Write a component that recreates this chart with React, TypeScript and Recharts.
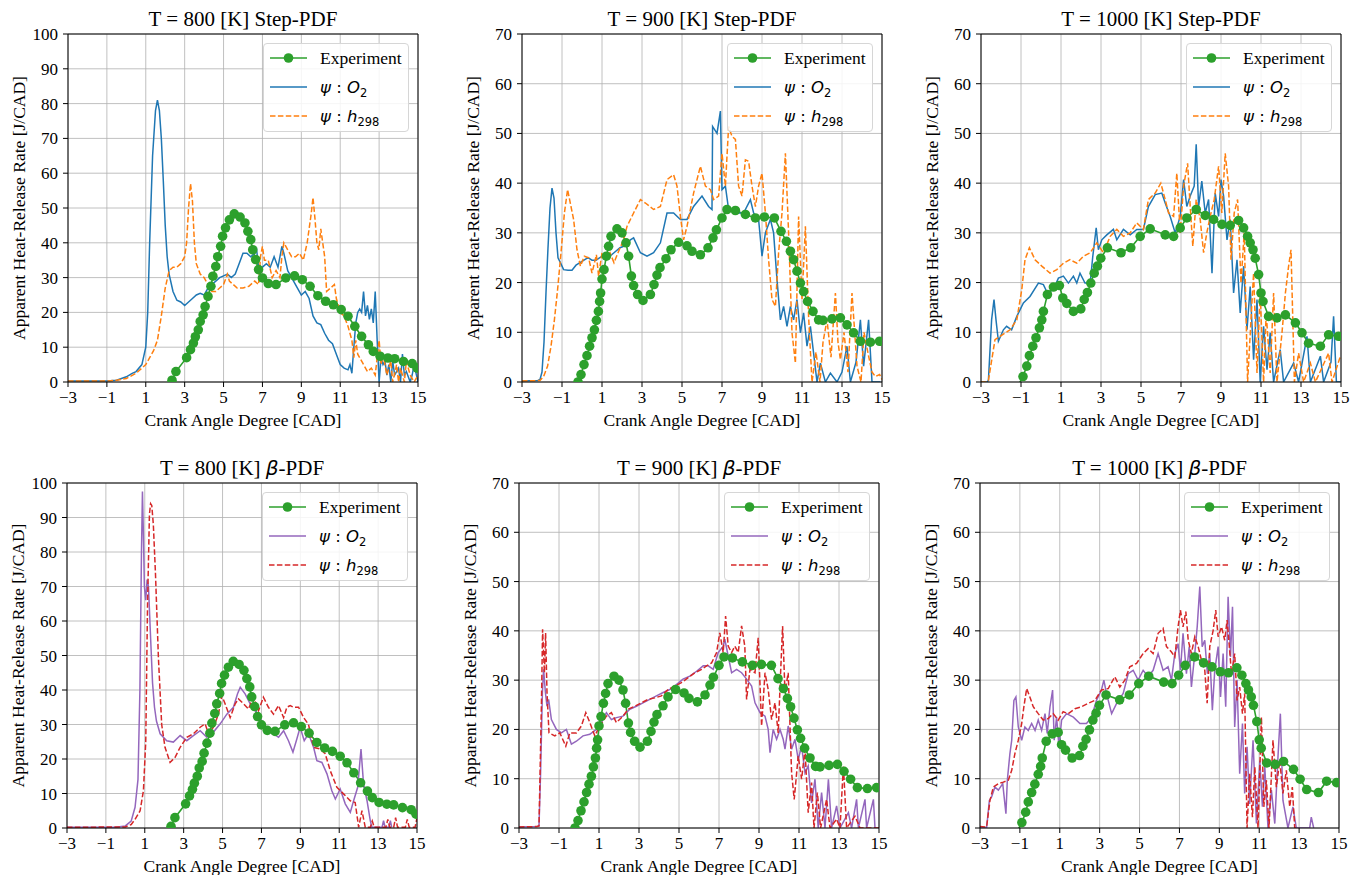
import React from 'react';
import { LineChart, Line, XAxis, YAxis, CartesianGrid, ReferenceLine } from 'recharts';

type Pt = [number, number];

const X_TICKS = [-3, -1, 1, 3, 5, 7, 9, 11, 13, 15];
const Y_TICKS_100 = [0, 10, 20, 30, 40, 50, 60, 70, 80, 90, 100];
const Y_TICKS_70 = [0, 10, 20, 30, 40, 50, 60, 70];

// measured heat release, shared by the Step-PDF and beta-PDF panels
const exp800: Pt[] = [[2.35,0.5],[2.55,3],[3.1,7],[3.3,9.3],[3.45,11.2],[3.55,13],[3.7,15],[3.8,17.4],[3.95,19.3],[4.05,21.7],[4.2,24.6],[4.35,27.5],[4.45,30.4],[4.6,33.2],[4.7,36],[4.85,39],[4.95,41.9],[5.1,44.3],[5.3,46.6],[5.55,48.3],[5.85,47.4],[6.1,45.7],[6.25,43.3],[6.4,40.9],[6.5,38],[6.65,35.2],[6.8,32.3],[7.0,29.9],[7.3,28.3],[7.7,28],[8.2,29.9],[8.65,30.5],[9.05,29.4],[9.45,27.5],[9.85,24.8],[10.25,23.2],[10.65,22.2],[11.05,20.8],[11.4,18.9],[11.75,16],[12.1,13.1],[12.45,10.7],[12.7,8.8],[13.05,7.4],[13.45,6.9],[13.8,6.7],[14.25,5.9],[14.7,5.3],[14.95,4]];
const exp900: Pt[] = [[-0.2,0],[-0.05,1.5],[0.1,3.5],[0.25,5.3],[0.38,7.2],[0.5,8.9],[0.62,10.5],[0.72,12.4],[0.82,14.2],[0.88,16.2],[0.93,17.9],[1.0,20.7],[1.1,22.6],[1.22,25.3],[1.33,27.3],[1.45,29.3],[1.75,30.8],[2.0,30],[2.2,28],[2.33,25.3],[2.47,21.3],[2.58,19.4],[2.78,17.6],[3.05,16.4],[3.42,17.6],[3.6,19.6],[3.75,21.5],[3.9,23],[4.2,24.8],[4.45,26.6],[4.83,28.1],[5.25,27.4],[5.5,26.3],[5.92,25.6],[6.3,27],[6.55,29],[6.72,30.6],[7.0,33],[7.25,34.7],[7.67,34.5],[8.17,33.7],[8.67,33],[9.12,33.2],[9.62,33],[9.95,30.3],[10.22,28.3],[10.42,26.3],[10.58,24.6],[10.75,22.3],[10.92,19.9],[11.08,18.2],[11.28,16.2],[11.55,14.2],[11.83,12.5],[12.05,12.4],[12.5,12.7],[12.92,12.9],[13.25,11.5],[13.58,9.9],[13.92,8.2],[14.42,8],[14.88,8.2]];
const exp1000: Pt[] = [[-1.25,-1.5],[-0.9,1.1],[-0.71,3.2],[-0.58,5.3],[-0.41,7.2],[-0.25,8.9],[-0.08,10.9],[0.04,12.5],[0.12,14.2],[0.32,17.6],[0.62,19.1],[0.92,19.4],[1.09,16.9],[1.29,15.8],[1.62,14.2],[1.99,14.7],[2.16,16.6],[2.32,18],[2.49,19.9],[2.66,21.9],[2.82,23.3],[2.99,24.9],[3.32,27],[4.0,26],[4.49,27],[4.96,29.3],[5.46,30.8],[6.21,29.6],[6.63,29.3],[6.96,31],[7.29,33],[7.76,34.7],[8.21,33.5],[8.63,32.7],[9.05,31.7],[9.46,31.5],[9.88,32.5],[10.13,31],[10.33,29.3],[10.46,28],[10.6,26.6],[10.71,24.9],[10.88,21.6],[11.0,17.9],[11.1,16.2],[11.38,13.2],[11.8,12.9],[12.22,13.5],[12.72,11.9],[13.05,9.9],[13.38,7.8],[13.97,7.2],[14.38,9.5],[14.88,9.2]];

// Step-PDF simulations
const step800O2: Pt[] = [[-3,0.3],[-1,0.3],[-0.5,0.5],[0,1.5],[0.3,2.5],[0.5,3],[0.8,5],[1.0,10],[1.1,20],[1.2,40],[1.35,65],[1.5,78],[1.6,81],[1.7,78],[1.8,70],[1.9,58],[2.0,45],[2.1,36],[2.2,31],[2.4,26],[2.6,23.5],[2.8,23],[3.0,22],[3.2,23],[3.4,24],[3.6,25],[3.8,25.5],[4.0,25],[4.2,27],[4.4,28],[4.6,29],[4.8,30],[5.0,30.5],[5.2,31],[5.4,30],[5.6,31],[5.8,34],[6.0,37],[6.2,37],[6.4,36],[6.6,37],[6.7,38],[6.8,33],[7.0,33],[7.2,34],[7.4,33],[7.6,36],[7.8,33],[8.0,39],[8.1,37],[8.3,32],[8.5,30],[8.8,27],[9.0,25],[9.2,26],[9.4,24],[9.6,19],[9.8,17],[10.0,16.5],[10.2,14],[10.4,12],[10.6,11],[10.8,8],[11.0,5],[11.2,4],[11.4,3.5],[11.5,5],[11.6,2.5],[11.7,10],[11.8,17],[11.9,20],[12.0,21],[12.1,20],[12.2,26],[12.3,19],[12.4,22],[12.5,18],[12.6,21],[12.7,17],[12.8,26],[12.9,12],[13.0,0],[13.1,7],[13.2,5],[13.3,6],[13.4,2],[13.5,5],[13.6,0],[13.7,6],[13.8,2],[14.0,4],[14.1,0],[14.2,8],[14.3,2],[14.4,3],[14.6,0],[14.7,2],[14.8,5],[15.0,0]];
const step800H: Pt[] = [[-3,0.3],[-1,0.3],[-0.5,0.5],[0,1],[0.5,2.5],[0.8,4],[1.0,5],[1.2,7],[1.4,9],[1.6,12],[1.8,19],[2.0,27],[2.2,32],[2.4,33],[2.6,33],[2.8,34],[3.0,36],[3.1,40],[3.2,50],[3.3,57],[3.4,52],[3.5,40],[3.6,34],[3.8,31],[4.0,30],[4.2,28],[4.4,26],[4.6,26],[4.8,27],[5.0,28],[5.2,31],[5.3,29],[5.5,28],[5.7,27],[6.0,27],[6.3,27.5],[6.6,29],[6.8,28],[6.9,36],[7.0,39],[7.1,35],[7.3,35],[7.5,30],[7.7,32],[7.9,30],[8.0,36],[8.1,40],[8.3,38],[8.5,36],[8.7,36],[8.9,37],[9.1,35],[9.3,40],[9.5,48],[9.6,53],[9.7,47],[9.8,40],[9.9,38],[10.0,44],[10.1,40],[10.2,36],[10.3,26],[10.5,27],[10.7,28],[10.8,24],[11.0,20],[11.2,19],[11.4,16],[11.6,12],[11.7,7],[11.8,12],[11.9,8],[12.0,7],[12.2,5],[12.4,3],[12.6,4],[12.8,2],[13.0,12],[13.1,5],[13.2,8],[13.4,2],[13.6,6],[13.7,0],[13.9,5],[14.0,0],[14.1,4],[14.3,0],[14.4,6],[14.6,2],[14.8,0],[15.0,2]];
const step900O2: Pt[] = [[-3,0.2],[-2.2,0.3],[-2.1,0.5],[-2.0,2],[-1.9,8],[-1.8,18],[-1.7,27],[-1.6,35],[-1.5,39],[-1.4,37],[-1.3,30],[-1.2,25],[-1.08,24],[-0.92,22.6],[-0.7,22.5],[-0.5,22.5],[-0.3,23.5],[-0.1,24],[0.1,24.5],[0.3,25],[0.5,24.5],[0.7,24.5],[1.0,25.3],[1.3,25],[1.6,26],[1.9,27],[2.2,27.5],[2.42,28.6],[2.58,29],[2.92,26],[3.25,25.3],[3.58,26],[3.92,28],[4.25,34],[4.58,34],[4.92,32.7],[5.25,32.7],[5.58,35.3],[6.0,37.4],[6.33,35.3],[6.5,34.7],[6.53,51.4],[6.75,50],[6.92,54.5],[7.0,38.7],[7.17,39.4],[7.33,34.7],[7.75,34],[8.08,34],[8.42,36.7],[8.58,34],[8.83,32.7],[9.0,25.3],[9.17,30],[9.42,32.7],[9.58,30],[9.75,20.6],[9.92,12.5],[10.08,15.2],[10.25,11.2],[10.42,15.2],[10.58,12.5],[10.75,16.6],[10.92,9.9],[11.08,13.9],[11.25,7.2],[11.42,11.2],[11.58,5.8],[11.75,0],[11.92,3.8],[12.17,0],[12.42,1.8],[12.75,0],[13.0,2],[13.25,7.2],[13.42,0],[13.7,4],[13.92,12.5],[14.08,3.2],[14.33,12.5],[14.5,0],[14.92,0]];
const step900H: Pt[] = [[-3,0.2],[-2.1,0.3],[-1.92,1.1],[-1.72,3.2],[-1.55,7.2],[-1.38,12.5],[-1.22,18.6],[-1.05,26],[-0.88,34],[-0.72,38.7],[-0.55,35.3],[-0.42,32.7],[-0.25,26.6],[-0.08,23.3],[0.12,25.3],[0.33,25],[0.5,21.9],[0.72,25.6],[0.83,21.3],[1.0,26],[1.2,25],[1.4,26],[1.6,24],[1.8,26],[2.08,28.6],[2.25,31.3],[2.58,34],[2.92,36.7],[3.17,36],[3.58,34.7],[3.92,35.3],[4.25,40.7],[4.58,41.7],[4.75,39.4],[4.92,33.3],[5.08,28.6],[5.25,31.3],[5.58,38],[5.92,43.4],[6.17,39.4],[6.42,38.7],[6.58,36.7],[6.83,37.4],[7.0,46],[7.17,39.4],[7.33,51.4],[7.5,49.4],[7.67,48.8],[7.83,39.4],[8.0,37.4],[8.17,44.7],[8.33,44.4],[8.5,39.4],[8.67,35.3],[8.83,39.4],[9.0,42],[9.17,34],[9.33,24.6],[9.5,16.6],[9.67,15.2],[9.83,26],[10.0,34],[10.17,46],[10.33,30],[10.5,9.9],[10.67,3.8],[10.83,33.3],[11.0,16.6],[11.17,31.3],[11.33,13.2],[11.5,0],[11.7,6],[11.9,0],[12.05,8],[12.25,12.5],[12.45,5],[12.67,17.9],[12.8,8],[12.92,4.5],[13.1,10],[13.3,2],[13.5,17.9],[13.75,3.2],[13.95,0],[14.1,10],[14.33,5.2],[14.5,2],[14.67,1.1],[14.88,1.5],[15,0.5]];
const step1000O2: Pt[] = [[-3,0],[-2.7,0],[-2.63,0.3],[-2.47,12.5],[-2.35,16.6],[-2.25,12.5],[-2.13,8.2],[-1.88,10.5],[-1.72,11.2],[-1.47,10.5],[-1.21,13.2],[-0.88,15.9],[-0.55,17.2],[-0.13,19.9],[0.12,19.6],[0.32,17.9],[0.62,18.6],[0.87,20.9],[1.12,21.3],[1.37,19.9],[1.62,21.3],[1.79,19.9],[1.95,21.9],[2.2,19.9],[2.46,19.9],[2.59,25.3],[2.76,31],[2.87,26.6],[3.04,28.6],[3.29,29.6],[3.62,30.7],[3.79,28.6],[4.12,30.7],[4.46,29.6],[4.79,30.7],[5.12,30.7],[5.37,35.3],[5.71,37.7],[6.04,38],[6.21,36],[6.46,33.3],[6.71,30],[6.96,33.3],[7.13,40.7],[7.29,35.3],[7.46,37.4],[7.66,39.4],[7.76,47.8],[7.88,35.3],[8.04,40.4],[8.21,34],[8.38,36.7],[8.55,21.9],[8.71,38],[8.88,33.3],[9.0,40.7],[9.13,37.4],[9.3,28.6],[9.46,32.7],[9.63,17.9],[9.8,24.6],[9.96,13.9],[10.13,23.3],[10.3,10.5],[10.46,19.2],[10.63,4.5],[10.8,16.6],[10.96,0],[11.13,11.2],[11.3,2.5],[11.46,9.9],[11.63,0],[11.96,6.5],[12.13,0],[12.63,3.8],[12.88,0],[13.3,9.2],[13.47,0],[13.97,5.2],[14.13,0],[14.5,4],[14.63,13.2],[14.77,0],[15,0]];
const step1000H: Pt[] = [[-3,0],[-2.7,0],[-2.63,0.3],[-2.3,8.5],[-2.05,9.2],[-1.55,10.5],[-1.21,12.5],[-0.96,18.6],[-0.8,24.6],[-0.58,27],[-0.3,24.6],[0.04,23.3],[0.45,21.9],[0.79,22.6],[1.12,23.9],[1.45,24.6],[1.79,23.9],[2.12,25.3],[2.46,26],[2.79,28],[3.12,26],[3.46,29.3],[3.79,30.7],[4.12,29.3],[4.46,30],[4.79,32],[5.12,30.7],[5.37,36.7],[5.71,38],[5.99,40],[6.21,36.7],[6.38,34],[6.63,33.3],[6.79,42],[6.96,30],[7.13,39.4],[7.33,44],[7.46,35.3],[7.59,27.3],[7.76,36.7],[7.96,32.7],[8.13,26],[8.29,30],[8.46,33.3],[8.66,36.7],[8.88,43.4],[9.04,34],[9.21,46],[9.38,39.4],[9.5,24.6],[9.66,34],[9.83,36.7],[10.0,19.9],[10.16,30],[10.33,0],[10.5,12.5],[10.63,21.9],[10.8,1.8],[10.96,17.9],[11.13,0],[11.26,13.9],[11.46,1.8],[11.63,17.9],[11.8,0],[12.05,9.9],[12.22,17.9],[12.38,23.3],[12.5,26.6],[12.67,0],[12.88,5.8],[13.13,0],[13.47,3.8],[13.72,0],[14.38,5.8],[14.55,0],[14.97,5.2]];

// beta-PDF simulations
const beta800O2: Pt[] = [[-3,0.2],[-0.5,0.2],[0,0.6],[0.3,2],[0.5,6],[0.65,14],[0.75,40],[0.83,80],[0.88,97.5],[0.93,85],[0.98,70],[1.05,66],[1.12,72],[1.19,70],[1.3,55],[1.4,42],[1.5,35],[1.6,31],[1.79,27.3],[2.13,25.3],[2.47,24.9],[2.82,26.8],[3.16,25.3],[3.5,26.8],[3.85,28.2],[4.19,26.3],[4.53,27.8],[4.88,30.2],[5.22,33],[5.56,35],[5.77,38.9],[5.91,40.8],[6.16,38.9],[6.42,36],[6.68,34],[6.93,32],[7.1,30.2],[7.36,28.2],[7.62,27.3],[7.88,26.3],[8.14,28.2],[8.39,25.3],[8.62,22],[8.82,25.8],[8.99,29.2],[9.2,25.3],[9.42,27.3],[9.68,23.4],[9.85,19.5],[10.11,19],[10.37,15.7],[10.62,10.8],[10.8,8.4],[11.05,11.3],[11.31,7],[11.57,4.5],[11.74,7.9],[11.95,11.8],[12.12,22.9],[12.25,12.8],[12.43,7.9],[12.6,2.1],[12.68,0.2],[13.2,0.2],[13.28,2.1],[13.36,0.2],[13.55,0.2],[13.63,2.1],[13.7,0.2]];
const beta800H: Pt[] = [[-3,0.2],[0,0.3],[0.3,1],[0.5,2.5],[0.76,5],[0.93,10.8],[1.05,25],[1.14,64],[1.24,91],[1.3,94],[1.36,93.5],[1.44,88],[1.55,73.7],[1.7,49.5],[1.87,30],[2.04,23.4],[2.3,19],[2.56,20.5],[2.82,23.4],[3.16,26.3],[3.5,27.3],[3.85,29.2],[4.1,30.2],[4.28,27.3],[4.53,29.2],[4.79,33],[4.96,38.4],[5.13,36],[5.39,32],[5.65,36],[5.82,37.4],[6.08,36],[6.33,34.5],[6.59,37.9],[6.85,34],[7.1,37.9],[7.36,35],[7.62,33],[7.88,35.5],[8.14,32],[8.31,35],[8.48,35.5],[8.65,35],[8.91,35],[9.17,32],[9.42,30],[9.68,23.4],[10.02,22.9],[10.28,21.5],[10.54,16.6],[10.88,11.8],[11.22,9.9],[11.57,7.9],[11.82,7.4],[12.0,0.2],[12.17,5],[12.34,0.2],[12.6,0.2],[12.7,2],[12.8,0.2],[13.4,0.2],[13.5,2.5],[13.6,0.2],[13.8,0.2],[13.9,3],[14.0,0.2],[14.4,0.2],[14.5,2.5],[14.6,0.2],[14.9,0.2],[15,3]];
const beta900O2: Pt[] = [[-3,0.2],[-2.1,0.3],[-2.0,0.4],[-1.92,11.2],[-1.83,27.5],[-1.77,32.2],[-1.68,27.5],[-1.6,24.7],[-1.52,26.1],[-1.38,22],[-1.13,20],[-0.88,19.3],[-0.63,20],[-0.38,17],[-0.13,17.6],[0.2,18.7],[0.54,19],[0.87,20],[1.12,21.4],[1.37,23.4],[1.62,22],[1.87,22.4],[2.2,22.7],[2.54,24.1],[2.87,24.7],[3.2,25.4],[3.54,26.1],[3.87,26.8],[4.21,27.5],[4.54,28.1],[4.87,29.1],[5.2,30.2],[5.54,30.8],[5.88,31.8],[6.21,32.9],[6.46,32.9],[6.71,32.2],[6.96,35.6],[7.21,36.9],[7.29,38.3],[7.46,34.9],[7.63,31.5],[7.88,32.2],[8.13,31.5],[8.38,30.2],[8.63,28.8],[8.8,25.4],[9.05,23.4],[9.3,22.7],[9.46,20],[9.55,15.3],[9.71,20],[9.88,18],[10.05,20],[10.21,18],[10.3,16],[10.46,20.7],[10.63,16],[10.8,18],[10.96,13.9],[11.13,16.6],[11.3,11.2],[11.46,12.6],[11.63,5.1],[11.8,9.9],[11.96,0],[12.13,7.2],[12.3,0],[12.47,9.9],[12.63,0],[12.88,4.5],[13.05,0],[13.47,3.1],[13.63,0],[13.88,5.8],[13.97,0],[14.3,5.8],[14.38,0],[14.72,5.8],[14.8,0]];
const beta900H: Pt[] = [[-3,0.2],[-2.1,0.3],[-2.0,0.4],[-1.88,24.7],[-1.82,40.3],[-1.73,31.5],[-1.67,39.6],[-1.6,27.5],[-1.5,19.3],[-1.21,18.7],[-0.96,19.3],[-0.66,16.6],[-0.46,19.3],[-0.13,19.3],[0.12,20.7],[0.34,23.4],[0.54,21.4],[0.79,18.7],[1.04,20.7],[1.37,22.7],[1.62,23.4],[1.87,21.4],[2.2,22.7],[2.46,24.1],[2.79,24.7],[3.12,25.4],[3.46,26.1],[3.79,26.4],[4.12,26.8],[4.46,28.1],[4.79,28.8],[5.12,29.5],[5.46,30.5],[5.79,31.5],[6.13,32.2],[6.38,32.9],[6.63,33.5],[6.88,35.6],[7.04,39.6],[7.21,35.6],[7.33,43],[7.46,36.9],[7.63,35.6],[7.79,36.9],[7.96,35.6],[8.13,41],[8.29,36.9],[8.38,26.1],[8.55,32.2],[8.8,31.5],[8.96,38.6],[9.13,20.7],[9.3,31.5],[9.46,28.1],[9.63,22],[9.8,25.4],[9.96,19.3],[10.08,31.5],[10.18,41],[10.3,27.5],[10.46,31.5],[10.63,11.2],[10.76,5.8],[10.96,14.6],[11.13,9.9],[11.3,16],[11.46,3.1],[11.63,9.2],[11.75,0],[11.92,7.2],[12.08,0],[12.38,5.8],[12.55,0],[12.88,1.8],[13.05,0],[13.22,12.6],[13.38,0],[13.8,2.4],[14.05,0],[15,0]];
const beta1000O2: Pt[] = [[-3,0],[-2.67,0],[-2.53,5.6],[-2.42,6.3],[-2.25,8.3],[-2.08,7.7],[-1.86,9],[-1.7,2.9],[-1.63,9.7],[-1.5,15.1],[-1.41,17.8],[-1.3,25.9],[-1.2,26.6],[-1.08,20.5],[-0.91,17.8],[-0.75,20.5],[-0.58,19.8],[-0.41,21.2],[-0.24,19.8],[-0.08,21.9],[0.09,19.8],[0.26,23.2],[0.37,19.2],[0.51,24.6],[0.64,28],[0.72,17.8],[0.84,22.5],[0.96,16.5],[1.09,21.9],[1.34,23.2],[1.68,22.5],[2.01,21.2],[2.34,21.2],[2.59,22.5],[2.84,25.9],[3.09,28],[3.21,30],[3.34,27.3],[3.6,23.2],[3.85,25.3],[4.18,27.3],[4.43,31.3],[4.68,32],[4.93,30],[5.18,32],[5.43,30.7],[5.68,32],[5.93,35.4],[6.18,32],[6.43,32.7],[6.6,30],[6.77,35.4],[6.93,37.4],[7.05,32],[7.18,39.5],[7.35,31.3],[7.49,36.8],[7.6,28.6],[7.77,35.4],[7.89,40.8],[8.02,49],[8.14,36.8],[8.27,38.1],[8.4,31.3],[8.52,35.4],[8.65,23.9],[8.77,32],[8.94,36.8],[9.06,26.6],[9.19,35.4],[9.32,24.6],[9.44,46.9],[9.56,34.7],[9.66,44.9],[9.77,20.5],[9.89,30],[10.02,11],[10.16,21.2],[10.27,7],[10.39,16.5],[10.52,4.9],[10.69,17.8],[10.86,0.9],[11.03,13.7],[11.16,4.3],[11.28,12.4],[11.44,0],[11.61,7.7],[11.78,0.9],[11.94,14.4],[12.06,23.2],[12.19,5.6],[12.44,0],[12.69,4.3],[12.86,0],[13.53,0],[13.61,2.2],[13.73,0]];
const beta1000H: Pt[] = [[-3,0.3],[-2.67,0.2],[-2.5,5.6],[-2.33,8.3],[-2.08,9],[-1.83,9.3],[-1.58,9.7],[-1.41,11.7],[-1.25,15.1],[-1.08,17.8],[-0.91,21.2],[-0.8,24.6],[-0.66,28.3],[-0.5,26.6],[-0.33,24.6],[-0.08,23.2],[0.17,21.9],[0.42,22.2],[0.67,23.2],[0.92,21.9],[1.17,23.6],[1.42,23.2],[1.76,24.2],[2.09,24.6],[2.43,25.3],[2.76,25.9],[3.09,28],[3.43,28.3],[3.76,30.7],[4.01,28.6],[4.26,30],[4.51,32.7],[4.85,33.4],[5.18,35.4],[5.43,36.4],[5.68,35.4],[5.93,39.5],[6.18,40.5],[6.35,36.8],[6.6,35.7],[6.77,34.7],[6.93,40.8],[7.05,44.2],[7.18,40.8],[7.32,43.9],[7.44,38.1],[7.6,35.4],[7.77,38.8],[7.94,36.8],[8.1,34.1],[8.27,32],[8.39,25.3],[8.52,36.8],[8.69,40.1],[8.82,44.2],[8.94,38.8],[9.11,40.8],[9.27,38.1],[9.39,42.2],[9.49,37.4],[9.61,31.3],[9.77,35.4],[9.89,25.9],[10.02,28.6],[10.16,23.2],[10.27,27.3],[10.39,0],[10.52,11],[10.66,2.2],[10.78,12.4],[10.94,0],[11.11,22.5],[11.23,4.3],[11.36,9.7],[11.49,0],[11.69,17.8],[11.86,8.3],[12.03,13.7],[12.19,7],[12.36,11.7],[12.53,4.3],[12.66,8.3],[12.78,0],[12.86,0]];

const GREEN = '#2ca02c';
const BLUE = '#1f77b4';
const ORANGE = '#ff7f0e';
const PURPLE = '#9467bd';
const RED = '#d62728';
const SERIF = '"Liberation Serif", "Times New Roman", serif';
const MATH = '"DejaVu Sans", sans-serif';
const DASH = '5.5 2.4';

const YW = 98;
const XH = 76;
const PAD_T = 14;
const PAD_R = 16;

const toPts = (arr: Pt[]) => arr.map(([x, y]) => ({ x, y }));
const fmtTick = (v: number) => (v < 0 ? `\u2212${Math.abs(v)}` : `${v}`);

const Psi = ({ sym, sub }: { sym: string; sub: string }) => (
  <span style={{ fontFamily: MATH, fontSize: 16.5 }}>
    <span style={{ fontStyle: 'italic' }}>ψ</span> : <span style={{ fontStyle: 'italic' }}>{sym}</span>
    <span style={{ fontSize: 11.5, position: 'relative', top: 4 }}>{sub}</span>
  </span>
);

const LegendRow = ({ y, color, dashed, marker, children }: any) => (
  <div style={{ position: 'absolute', left: 0, top: y - 12, height: 24, width: '100%' }}>
    <svg width={42} height={24} style={{ position: 'absolute', left: 4, top: 0 }}>
      <line x1={2} x2={39} y1={12} y2={12} stroke={color} strokeWidth={1.6} strokeDasharray={dashed ? DASH : undefined} />
      {marker && <circle cx={20.5} cy={12} r={4.8} fill={color} />}
    </svg>
    <div style={{ position: 'absolute', left: 56, top: 0, lineHeight: '24px', fontFamily: SERIF, fontSize: 17.5, whiteSpace: 'nowrap' }}>
      {children}
    </div>
  </div>
);

const Panel = ({ left, top, pw, ph, yMax, yTicks, title, exp, o2, h, o2Color, hColor }: any) => {
  const width = YW + pw + PAD_R;
  const height = PAD_T + ph + XH;
  return (
    <>
      <div style={{ position: 'absolute', left, top: top - 26, width: pw, textAlign: 'center', fontFamily: SERIF, fontSize: 21, lineHeight: '22px', color: '#000', whiteSpace: 'nowrap' }}>
        {title}
      </div>
      <div style={{ position: 'absolute', left: left - YW, top: top - PAD_T }}>
        <LineChart width={width} height={height} margin={{ top: PAD_T, right: PAD_R, bottom: 0, left: 0 }}>
          <CartesianGrid stroke="#b0b0b0" strokeWidth={0.8} />
          <XAxis
            type="number"
            dataKey="x"
            domain={[-3, 15]}
            ticks={X_TICKS}
            interval={0}
            allowDataOverflow
            height={XH}
            tickFormatter={fmtTick}
            tick={{ fill: '#000', fontSize: 17, fontFamily: SERIF }}
            tickSize={5}
            tickMargin={4}
            axisLine={{ stroke: '#000' }}
            tickLine={{ stroke: '#000' }}
            label={{ value: 'Crank Angle Degree [CAD]', position: 'center', fill: '#000', style: { fontSize: 17.5, fontFamily: SERIF, fill: '#000' } }}
          />
          <YAxis
            type="number"
            domain={[0, yMax]}
            ticks={yTicks}
            interval={0}
            allowDataOverflow
            width={YW}
            tick={{ fill: '#000', fontSize: 17, fontFamily: SERIF }}
            tickSize={5}
            tickMargin={5}
            axisLine={{ stroke: '#000' }}
            tickLine={{ stroke: '#000' }}
            label={{ value: 'Apparent Heat-Release Rate [J/CAD]', angle: -90, position: 'center', fill: '#000', style: { fontSize: 17.5, fontFamily: SERIF, fill: '#000', textAnchor: 'middle' } }}
          />
          <Line data={toPts(exp)} dataKey="y" type="linear" stroke={GREEN} strokeWidth={1.6} dot={{ r: 4.8, fill: GREEN, stroke: 'none' }} isAnimationActive={false} />
          <Line data={toPts(o2)} dataKey="y" type="linear" stroke={o2Color} strokeWidth={1.5} dot={false} isAnimationActive={false} />
          <Line data={toPts(h)} dataKey="y" type="linear" stroke={hColor} strokeWidth={1.5} strokeDasharray={DASH} dot={false} isAnimationActive={false} />
          <ReferenceLine y={yMax} stroke="#000" strokeWidth={1} />
          <ReferenceLine x={15} stroke="#000" strokeWidth={1} />
        </LineChart>
      </div>
      <div style={{ position: 'absolute', left: left + pw - 9 - 146, top: top + 9, width: 146, height: 89, background: 'rgba(255,255,255,0.85)', border: '1px solid #d6d6d6', borderRadius: 4, boxSizing: 'border-box' }}>
        <LegendRow y={14} color={GREEN} marker>Experiment</LegendRow>
        <LegendRow y={43} color={o2Color}><Psi sym="O" sub="2" /></LegendRow>
        <LegendRow y={72} color={hColor} dashed><Psi sym="h" sub="298" /></LegendRow>
      </div>
    </>
  );
};

const Beta = () => <span style={{ fontFamily: MATH, fontStyle: 'italic', fontSize: 20 }}>β</span>;

export default function App() {
  return (
    <div style={{ position: 'absolute', left: 0, top: 0, width: 1364, height: 875, background: '#fff' }}>
      <Panel left={68} top={34} pw={350} ph={348} yMax={100} yTicks={Y_TICKS_100} title="T = 800 [K] Step-PDF" exp={exp800} o2={step800O2} h={step800H} o2Color={BLUE} hColor={ORANGE} />
      <Panel left={522} top={34} pw={360} ph={348} yMax={70} yTicks={Y_TICKS_70} title="T = 900 [K] Step-PDF" exp={exp900} o2={step900O2} h={step900H} o2Color={BLUE} hColor={ORANGE} />
      <Panel left={981} top={34} pw={360} ph={348} yMax={70} yTicks={Y_TICKS_70} title="T = 1000 [K] Step-PDF" exp={exp1000} o2={step1000O2} h={step1000H} o2Color={BLUE} hColor={ORANGE} />
      <Panel left={67} top={483} pw={350} ph={345} yMax={100} yTicks={Y_TICKS_100} title={<>T = 800 [K] <Beta />-PDF</>} exp={exp800} o2={beta800O2} h={beta800H} o2Color={PURPLE} hColor={RED} />
      <Panel left={519} top={483} pw={360} ph={345} yMax={70} yTicks={Y_TICKS_70} title={<>T = 900 [K] <Beta />-PDF</>} exp={exp900} o2={beta900O2} h={beta900H} o2Color={PURPLE} hColor={RED} />
      <Panel left={980} top={483} pw={359} ph={345} yMax={70} yTicks={Y_TICKS_70} title={<>T = 1000 [K] <Beta />-PDF</>} exp={exp1000} o2={beta1000O2} h={beta1000H} o2Color={PURPLE} hColor={RED} />
    </div>
  );
}
